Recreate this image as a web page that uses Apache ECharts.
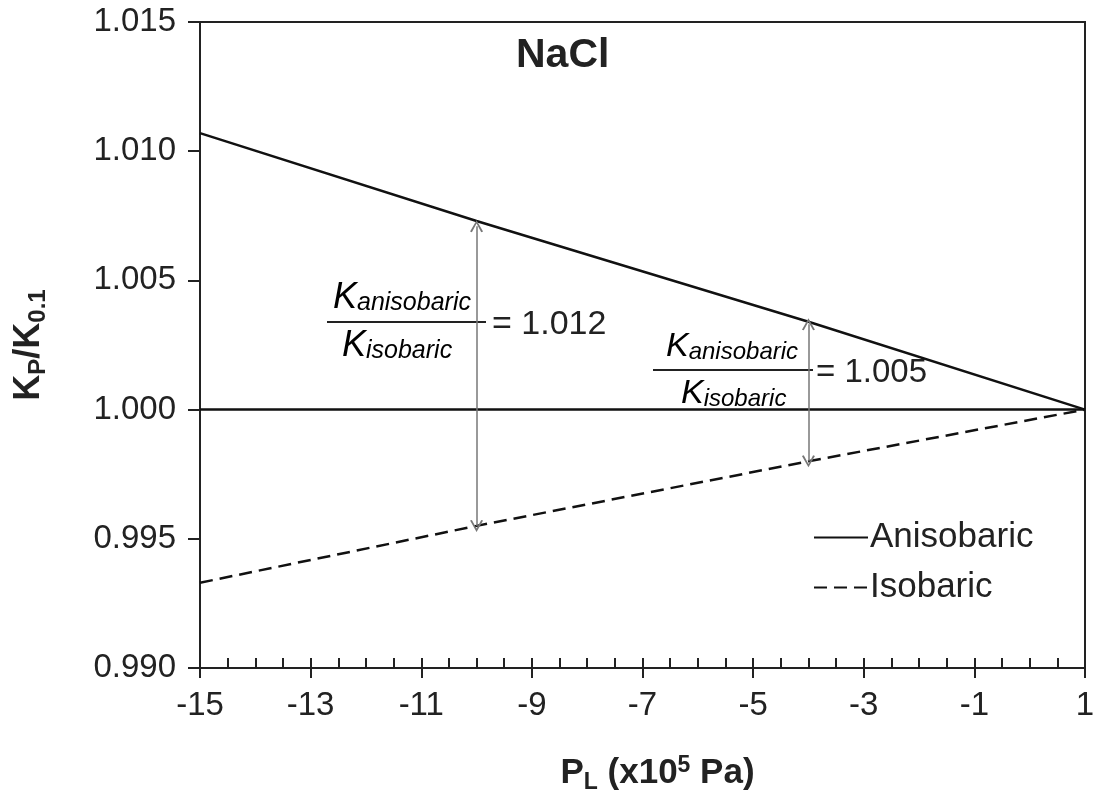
<!DOCTYPE html>
<html>
<head>
<meta charset="utf-8">
<script src="https://cdn.jsdelivr.net/npm/echarts@6/dist/echarts.min.js"></script>
<style>
  html, body { margin: 0; padding: 0; background: #fff; }
  #chart { width: 1095px; height: 796px; }
</style>
</head>
<body>
<div id="chart"></div>
<script>
// data
const pressure = [-15, -10, -4, 1]
const anisobaric = [1.0107, 1.0073, 1.0034, 1.0000]
const isobaric = [0.9933, 0.9955, 0.9980, 1.0000]
const baseline = [1.0000, 1.0000, 1.0000, 1.0000]
const arrowX = [-10, -4]
const arrowTop = [1.0071, 1.0033]
const arrowBottom = [0.9955, 0.9980]
const ratioText = ['1.012', '1.005']

const font = 'Liberation Sans, Arial, sans-serif'
const chart = echarts.init(document.getElementById('chart'))

const pair = (xs, ys) => xs.map((x, i) => [x, ys[i]])

function fracRich(big, small) {
  return {
    k: { fontFamily: font, fontStyle: 'italic', fontSize: big, color: '#222' },
    sub: { fontFamily: font, fontStyle: 'italic', fontSize: small, color: '#222', padding: [Math.round(small * 0.45), 0, 0, 0] }
  }
}

// fraction line + numerator/denominator + "= value"
function fraction(x0, x1, yLine, numX, denX, eqX, val, big, small, eqSize) {
  const rich = fracRich(big, small)
  return [
    { type: 'line', shape: { x1: x0, y1: yLine, x2: x1, y2: yLine }, style: { stroke: '#222', lineWidth: 2 } },
    { type: 'text', style: { x: numX, y: yLine - 6, text: '{k|K}{sub|anisobaric}', rich: rich, verticalAlign: 'bottom' } },
    { type: 'text', style: { x: denX, y: yLine + 6, text: '{k|K}{sub|isobaric}', rich: rich, verticalAlign: 'top' } },
    { type: 'text', style: { x: eqX, y: yLine + 3, text: '= ' + val, fontFamily: font, fontSize: eqSize, fill: '#222', verticalAlign: 'middle' } }
  ]
}

const option = {
  animation: false,
  backgroundColor: '#fff',
  grid: {
    left: 200, right: 10, top: 22, bottom: 128, outerBoundsMode: 'none', containLabel: false,
    show: true, borderColor: '#222', borderWidth: 2, backgroundColor: 'transparent'
  },
  title: {
    text: 'NaCl', left: 511, top: 30,
    textStyle: { fontFamily: font, fontWeight: 'bold', fontSize: 41, color: '#222' }
  },
  legend: {
    orient: 'vertical', left: 808, top: 515, itemWidth: 54, itemHeight: 16, itemGap: 15,
    data: ['Anisobaric', 'Isobaric'],
    itemStyle: { opacity: 0 },
    textStyle: { fontFamily: font, fontSize: 35, color: '#222', padding: [0, 0, 0, -3] }
  },
  xAxis: [{
    type: 'value', min: -15, max: 1, interval: 2,
    name: '{b|P}{s|L}{b| (x10}{sup|5}{b| Pa)}', nameLocation: 'middle', nameGap: 84,
    nameTextStyle: {
      padding: [0, 0, 0, 30],
      rich: {
        b: { fontFamily: font, fontWeight: 'bold', fontSize: 35, color: '#222' },
        s: { fontFamily: font, fontWeight: 'bold', fontSize: 23, color: '#222', padding: [19, 0, 0, 0] },
        sup: { fontFamily: font, fontWeight: 'bold', fontSize: 23, color: '#222', padding: [0, 0, 15, 0] }
      }
    },
    axisLine: { lineStyle: { color: '#222', width: 2 } },
    axisTick: { inside: true, length: 10, lineStyle: { color: '#222', width: 2 } },
    minorTick: { show: true, splitNumber: 4, length: 10, lineStyle: { color: '#222', width: 2 } },
    splitLine: { show: false },
    axisLabel: { fontFamily: font, fontSize: 33, color: '#222', margin: 21 }
  }, {
    type: 'value', min: -15, max: 1, interval: 2, position: 'bottom',
    axisLine: { show: false },
    axisTick: { inside: false, length: 10, lineStyle: { color: '#222', width: 2 } },
    axisLabel: { show: false },
    splitLine: { show: false }
  }],
  yAxis: {
    type: 'value', min: 0.990, max: 1.015, interval: 0.005,
    name: '{b|K}{s|P}{b|/K}{s|0.1}', nameLocation: 'middle', nameRotate: 90, nameGap: 150,
    nameTextStyle: {
      rich: {
        b: { fontFamily: font, fontWeight: 'bold', fontSize: 36, color: '#222' },
        s: { fontFamily: font, fontWeight: 'bold', fontSize: 24, color: '#222', padding: [18, 0, 0, 0] }
      }
    },
    axisLine: { onZero: false, lineStyle: { color: '#222', width: 2 } },
    axisTick: { length: 12, lineStyle: { color: '#222', width: 2 } },
    splitLine: { show: false },
    axisLabel: { fontFamily: font, fontSize: 33, color: '#222', margin: 24, formatter: v => v.toFixed(3) }
  },
  series: [{
    name: 'Anisobaric', type: 'line', symbol: 'none',
    data: pair(pressure, anisobaric),
    lineStyle: { color: '#111', width: 2.5 }, itemStyle: { color: '#111' }
  }, {
    name: 'Isobaric', type: 'line', symbol: 'none',
    data: pair(pressure, isobaric),
    lineStyle: { color: '#111', width: 2.5, type: [13, 7] }, itemStyle: { color: '#111' }
  }, {
    name: 'baseline', type: 'line', symbol: 'none', silent: true,
    data: pair(pressure, baseline),
    lineStyle: { color: '#111', width: 2.5 },
    markLine: {
      silent: true,
      symbol: ['path://M0,10 L5,0 L10,10 L8.6,10.6 L5,3 L1.4,10.6 Z', 'path://M0,10 L5,0 L10,10 L8.6,10.6 L5,3 L1.4,10.6 Z'],
      symbolSize: [13, 12], label: { show: false },
      lineStyle: { color: '#777', width: 1.5, type: 'solid' },
      data: arrowX.map((x, i) => [{ coord: [x, arrowTop[i]] }, { coord: [x, arrowBottom[i]] }])
    }
  }],
  graphic: [
    ...fraction(327, 486, 322, 333, 342, 492, ratioText[0], 36, 25, 34),
    ...fraction(653, 813, 370, 666, 681, 816, ratioText[1], 34, 24, 33)
  ]
}

chart.setOption(option)
</script>
</body>
</html>
